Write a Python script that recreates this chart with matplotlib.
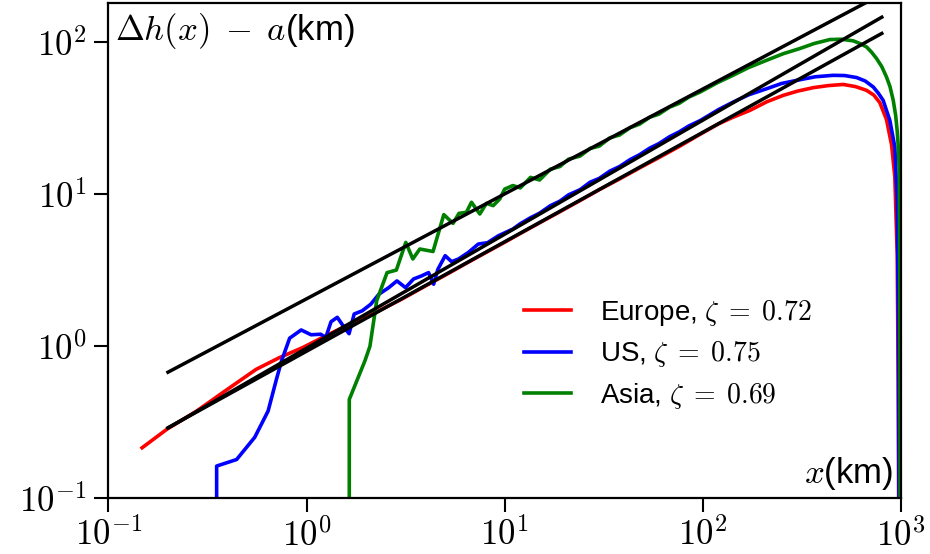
import matplotlib
matplotlib.use("Agg")
import matplotlib.pyplot as plt
import numpy as np
from matplotlib.ticker import FixedLocator, FuncFormatter, NullLocator

plt.rcParams['font.family'] = ['Liberation Sans', 'DejaVu Sans']
plt.rcParams['mathtext.fontset'] = 'cm'

# ---- data ----
europe_x = [0.148, 0.197, 0.279, 0.409, 0.557, 0.73, 0.955, 1.20, 1.58, 2.0, 2.5, 3.0, 4.0, 5.0,
            6.5, 8.0, 10, 12, 15, 19, 24, 30, 38, 48, 60, 76, 96, 120, 140, 173, 210, 255, 300, 361,
            430, 511, 590, 670, 730, 782, 845, 897, 931, 957, 968, 975]
europe_y = [0.215, 0.284, 0.375, 0.533, 0.705, 0.842, 0.979, 1.14, 1.36, 1.55, 1.80, 2.03, 2.50, 2.93,
            3.55, 4.12, 4.83, 5.52, 6.48, 7.67, 9.08, 10.7, 12.6, 14.9, 17.4, 20.6, 24.6, 29.0, 31.8, 35.6, 40.5, 44.7, 47.6, 50.2,
            51.8, 52.7, 51.0, 48.2, 44.8, 40.0, 31.0, 21.0, 13.0, 4.0, 0.6, 0.05]

us_x = [0.25, 0.352, 0.444, 0.548, 0.64, 0.705, 0.748, 0.822, 0.94, 1.055, 1.18, 1.25, 1.33, 1.43,
        1.55, 1.64, 1.74, 1.91, 2.11, 2.32, 2.60, 2.86, 3.16, 3.47, 3.8, 4.13, 4.38, 4.6, 5.01,
        5.4, 5.85, 6.56, 7.36, 8.2, 9.3, 11.0, 12, 13.5, 15, 17, 19, 21, 24, 27, 30, 34, 38, 43,
        48, 54, 60, 68, 76, 85, 97, 120, 142, 170, 210, 250, 309, 370, 455, 520, 597, 660, 725, 770,
        813, 879, 931, 957, 970, 978]
us_y = [0.0, 0.163, 0.18, 0.252, 0.375, 0.606, 0.80, 1.13, 1.28, 1.19, 1.20, 1.14, 1.45, 1.55,
        1.33, 1.21, 1.63, 1.71, 1.89, 2.20, 2.43, 2.69, 2.43, 2.77, 2.9, 3.05, 2.56, 3.2, 3.94,
        3.6, 3.75, 4.14, 4.70, 4.8, 5.33, 5.90, 6.4, 7.0, 7.5, 8.4, 9.0, 9.9, 10.7, 12.0, 12.7, 14.2, 15.2, 16.9,
        18.2, 20.1, 21.5, 23.9, 25.7, 28.1, 30.5, 36.0, 40.3, 45.0, 49.4, 53.5, 56.6, 59.2, 60.5, 60.3, 58.5, 55.5, 50.7, 46.0,
        41.4, 30.5, 20.4, 9.0, 1.5, 0.05]

asia_x = [1.5, 1.644, 1.97, 2.09, 2.26, 2.55, 2.84, 3.17, 3.44, 3.73, 4.35, 4.93, 5.49, 5.88, 6.41,
          6.8, 7.49, 8.09, 8.75, 9.45, 10.0, 11.0, 12, 13.5, 15, 17, 19, 21, 24, 27, 30, 34, 38, 43,
          48, 54, 60, 68, 76, 85, 97, 118, 142, 170, 210, 255, 309, 365, 438, 500, 574, 620, 670, 710,
          753, 800, 845, 880, 914, 940, 957, 970, 980, 986, 990]
asia_y = [0.0, 0.447, 0.80, 1.0, 1.99, 3.05, 3.17, 4.82, 3.75, 4.36, 4.20, 7.34, 6.43, 7.48, 7.60,
          8.85, 7.41, 8.71, 8.41, 9.31, 10.8, 11.4, 11.0, 12.9, 12.4, 14.6, 15.2, 17.0, 17.8, 20.0, 20.7, 23.5, 24.5, 27.4,
          28.9, 32.1, 33.6, 37.4, 39.6, 43.5, 47.0, 54, 60.5, 68, 76, 84, 90.8, 98, 104, 104.5, 102, 98, 93, 86,
          78, 69, 59, 51, 41.4, 33, 26, 20, 14, 3, 0.05]

regions = ['Europe', 'US', 'Asia']
zetas = [0.72, 0.75, 0.69]
amplitudes = [0.927, 0.97, 2.05]
fit_range = [0.2, 800]

xticks = [0.1, 1, 10, 100, 1000]
yticks = [0.1, 1, 10, 100]

# ---- figure ----
fig = plt.figure(figsize=(9.3, 5.54), dpi=100)
ax = fig.add_axes([0.1165, 0.1005, 0.8523, 0.8935])

series = [(europe_x, europe_y, '#ff0000'), (us_x, us_y, '#0000ff'), (asia_x, asia_y, '#008000')]
for (xs, ys, col), name, z in zip(series, regions, zetas):
    ax.plot(xs, ys, color=col, lw=2.6, label=f'{name}, $\\zeta\\;=\\;{z:.2f}$')

xf = np.array(fit_range)
for A, z in zip(amplitudes, zetas):
    ax.plot(xf, A * xf ** z, color='black', lw=2.5)

ax.set_xscale('log')
ax.set_yscale('log')
ax.set_xlim(0.1, 1000)
ax.set_ylim(0.1, 180)

fmt = FuncFormatter(lambda v, p: r'$10^{%d}$' % int(round(np.log10(v))))
ax.xaxis.set_major_locator(FixedLocator(xticks))
ax.yaxis.set_major_locator(FixedLocator(yticks))
ax.xaxis.set_minor_locator(NullLocator())
ax.yaxis.set_minor_locator(NullLocator())
ax.xaxis.set_major_formatter(fmt)
ax.yaxis.set_major_formatter(fmt)
ax.tick_params(which='major', direction='out', length=10, width=1.5, labelsize=25,
               top=False, right=False)
ax.tick_params(axis='x', pad=4)
ax.tick_params(axis='y', pad=6)
for s in ax.spines.values():
    s.set_linewidth(1.6)

ax.text(0.009, 0.985, r'$\Delta h(x)\;-\;a$(km)', transform=ax.transAxes,
        ha='left', va='top', fontsize=25)
ax.text(0.99, 0.012, r'$x$(km)', transform=ax.transAxes,
        ha='right', va='bottom', fontsize=25)

ax.legend(loc='upper left', bbox_to_anchor=(0.51, 0.428), frameon=False, fontsize=20,
          handlelength=1.7, handletextpad=1.05, labelspacing=0.42, borderaxespad=0)

fig.savefig('out.png', dpi=100)
